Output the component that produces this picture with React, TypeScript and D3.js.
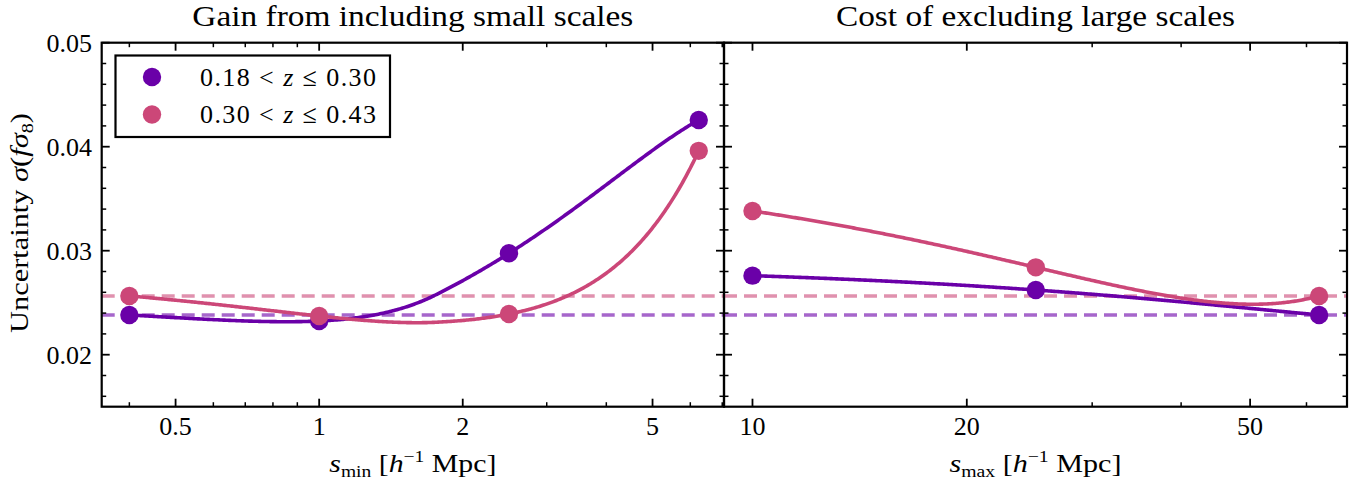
import React from "react";
import * as d3 from "d3";

// ---- data ----
const sMin = [0.4, 1, 2.5, 6.25];
const sMax = [10, 25, 62.5];
const sigmaLowZ_smin = [0.02382, 0.02324, 0.02975, 0.04257];
const sigmaHighZ_smin = [0.02565, 0.02372, 0.02391, 0.0396];
const sigmaLowZ_smax = [0.0276, 0.02622, 0.02382];
const sigmaHighZ_smax = [0.03382, 0.0284, 0.02565];
const baselineLowZ = 0.02382;
const baselineHighZ = 0.02565;
const seriesNames = ["0.18 < z ≤ 0.30", "0.30 < z ≤ 0.43"];
const seriesColors = ["#6a00a8", "#cc4778"];
const yTicks = [0.02, 0.03, 0.04, 0.05];
const leftXTicks = [0.5, 1, 2, 5];
const leftXMinor = [0.4, 0.6, 0.7, 0.8, 0.9, 3, 4, 6, 7];
const rightXTicks = [10, 20, 50];
const rightXMinor = [30, 40, 60];

// ---- layout ----
const W = 1362, H = 484;
const top = 42.7, bottom = 406.7;
const panels = [
  { x0: 101.7, x1: 724, domain: [0.35, 7.06], xs: sMin, ys: [sigmaLowZ_smin, sigmaHighZ_smin], major: leftXTicks, minor: leftXMinor, title: "Gain from including small scales", titleLen: 441, sub: "min", labLen: 167 },
  { x0: 724, x1: 1347, domain: [9.12, 68.4], xs: sMax, ys: [sigmaLowZ_smax, sigmaHighZ_smax], major: rightXTicks, minor: rightXMinor, title: "Cost of excluding large scales", titleLen: 399, sub: "max", labLen: 172 },
];

const y = d3.scaleLinear().domain([0.015, 0.05]).range([bottom, top]);
const yMinor = d3.range(0.016, 0.0501, 0.002).filter((v) => Math.abs(Math.round(v * 100) - v * 100) > 1e-6);

// quadratic interpolating B-spline (knots at midpoints, as scipy make_interp_spline k=2)
function makeQuadSpline(xs: number[], ys: number[]) {
  const k = 2;
  const n = xs.length;
  const mids = xs.slice(1).map((v, i) => (v + xs[i]) / 2);
  const t = [xs[0], xs[0], xs[0], ...mids.slice(1, -1), xs[n - 1], xs[n - 1], xs[n - 1]];
  const basis = (x: number) => {
    const m = t.length - 1;
    const xx = Math.min(x, t[m] - 1e-12);
    let B = new Array(m).fill(0);
    for (let i = 0; i < m; i++) if (t[i] <= xx && xx < t[i + 1]) B[i] = 1;
    for (let d = 1; d <= k; d++) {
      const nb = new Array(m - d).fill(0);
      for (let i = 0; i < m - d; i++) {
        let v = 0;
        if (t[i + d] > t[i]) v += ((xx - t[i]) / (t[i + d] - t[i])) * B[i];
        if (t[i + d + 1] > t[i + 1]) v += ((t[i + d + 1] - xx) / (t[i + d + 1] - t[i + 1])) * B[i + 1];
        nb[i] = v;
      }
      B = nb;
    }
    return B;
  };
  const M = xs.map((x, i) => [...basis(x), ys[i]]);
  for (let c = 0; c < n; c++) {
    let p = c;
    for (let r = c + 1; r < n; r++) if (Math.abs(M[r][c]) > Math.abs(M[p][c])) p = r;
    [M[c], M[p]] = [M[p], M[c]];
    for (let r = 0; r < n; r++) {
      if (r === c) continue;
      const f = M[r][c] / M[c][c];
      for (let j = c; j <= n; j++) M[r][j] -= f * M[c][j];
    }
  }
  const coef = M.map((r, i) => r[n] / r[i]);
  return (x: number) => basis(x).reduce((s, v, i) => s + v * coef[i], 0);
}

const font = "'Liberation Serif', 'Times New Roman', serif";

export default function App() {
  return (
    <svg width={W} height={H} style={{ display: "block", position: "absolute", left: 0, top: 0 }} fontFamily={font}>
      <rect width={W} height={H} fill="white" />
      {panels.map((p, pi) => {
        const x = d3.scaleLog().domain(p.domain).range([p.x0, p.x1]);
        const lo = p.xs[0], hi = p.xs[p.xs.length - 1];
        const samples = d3.range(0, 401).map((i) => lo * Math.pow(hi / lo, i / 400));
        const line = d3.line<number[]>().x((d) => x(d[0])).y((d) => y(d[1]));
        const cx = (p.x0 + p.x1) / 2;
        return (
          <g key={pi}>
            <defs>
              <clipPath id={`clip${pi}`}>
                <rect x={p.x0} y={top} width={p.x1 - p.x0} height={bottom - top} />
              </clipPath>
            </defs>
            <g clipPath={`url(#clip${pi})`}>
              {[baselineLowZ, baselineHighZ].map((b, i) => (
                <line key={i} x1={p.x0} x2={p.x1} y1={y(b)} y2={y(b)} stroke={seriesColors[i]} strokeOpacity={0.6} strokeWidth={3.6} strokeDasharray="13 7" />
              ))}
              {p.ys.map((ys, si) => {
                const f = makeQuadSpline(p.xs, ys);
                return (
                  <g key={si}>
                    <path d={line(samples.map((s) => [s, f(s)]))!} fill="none" stroke={seriesColors[si]} strokeWidth={3.6} />
                    {p.xs.map((xv, k) => (
                      <circle key={k} cx={x(xv)} cy={y(ys[k])} r={9.2} fill={seriesColors[si]} />
                    ))}
                  </g>
                );
              })}
            </g>
            {p.major.map((t) => (
              <g key={"M" + t}>
                <line x1={x(t)} x2={x(t)} y1={bottom} y2={bottom - 8} stroke="black" strokeWidth={1.8} />
                <line x1={x(t)} x2={x(t)} y1={top} y2={top + 8} stroke="black" strokeWidth={1.8} />
                <text x={x(t)} y={435} textAnchor="middle" fontSize={26}>{t}</text>
              </g>
            ))}
            {p.minor.map((t) => (
              <g key={"m" + t}>
                <line x1={x(t)} x2={x(t)} y1={bottom} y2={bottom - 4.5} stroke="black" strokeWidth={1.5} />
                <line x1={x(t)} x2={x(t)} y1={top} y2={top + 4.5} stroke="black" strokeWidth={1.5} />
              </g>
            ))}
            {yTicks.map((t) => (
              <g key={"y" + t}>
                <line x1={p.x0} x2={p.x0 + 8} y1={y(t)} y2={y(t)} stroke="black" strokeWidth={1.8} />
                <line x1={p.x1} x2={p.x1 - 8} y1={y(t)} y2={y(t)} stroke="black" strokeWidth={1.8} />
              </g>
            ))}
            {yMinor.map((t) => (
              <g key={"ym" + t}>
                <line x1={p.x0} x2={p.x0 + 4.5} y1={y(t)} y2={y(t)} stroke="black" strokeWidth={1.5} />
                <line x1={p.x1} x2={p.x1 - 4.5} y1={y(t)} y2={y(t)} stroke="black" strokeWidth={1.5} />
              </g>
            ))}
            <rect x={p.x0} y={top} width={p.x1 - p.x0} height={bottom - top} fill="none" stroke="black" strokeWidth={2.2} />
            <text x={cx} y={26} textAnchor="middle" fontSize={28.5} textLength={p.titleLen} lengthAdjust="spacingAndGlyphs">{p.title}</text>
            <text x={cx} y={472} textAnchor="middle" fontSize={26} textLength={p.labLen} lengthAdjust="spacingAndGlyphs">
              <tspan fontStyle="italic">s</tspan>
              <tspan fontSize={17} dy={5}>{p.sub}</tspan>
              <tspan dy={-5}> [</tspan>
              <tspan fontStyle="italic">h</tspan>
              <tspan fontSize={17} dy={-10}>−1</tspan>
              <tspan dy={10}> Mpc]</tspan>
            </text>
          </g>
        );
      })}
      {yTicks.map((t) => (
        <text key={t} x={92} y={y(t)} dy="0.34em" textAnchor="end" fontSize={26}>{t.toFixed(2)}</text>
      ))}
      <text transform={`translate(28,223) rotate(-90)`} textAnchor="middle" fontSize={25.5} textLength={220} lengthAdjust="spacingAndGlyphs">
        Uncertainty <tspan fontStyle="italic">σ</tspan>(<tspan fontStyle="italic">fσ</tspan><tspan fontSize={17} dy={5}>8</tspan><tspan dy={-5}>)</tspan>
      </text>
      <rect x={115.5} y={55.5} width={274.5} height={81.5} fill="white" stroke="black" strokeWidth={2.2} />
      {seriesNames.map((n, i) => {
        const parts = n.split("z");
        return (
          <g key={i}>
            <circle cx={152} cy={77 + i * 37.5} r={9.2} fill={seriesColors[i]} />
            <text x={200} y={77 + i * 37.5} dy="0.34em" fontSize={26} textLength={176} lengthAdjust="spacing">
              {parts[0]}<tspan fontStyle="italic">z</tspan>{parts[1]}
            </text>
          </g>
        );
      })}
    </svg>
  );
}
